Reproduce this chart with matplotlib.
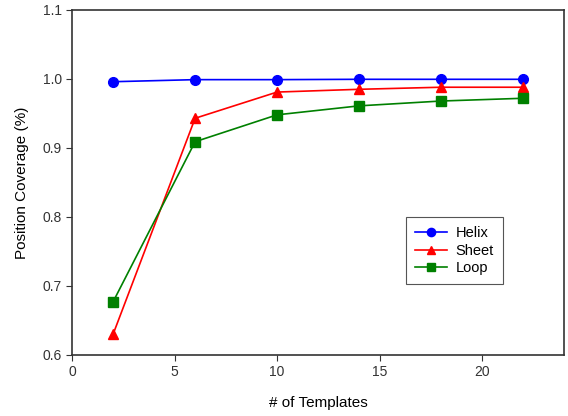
import matplotlib.pyplot as plt

plt.rcParams["font.family"] = ["Liberation Sans", "DejaVu Sans"]

templates = [2, 6, 10, 14, 18, 22]
helix = [0.996, 0.999, 0.999, 0.9995, 0.9995, 0.9995]
sheet = [0.630, 0.943, 0.981, 0.985, 0.988, 0.988]
loop = [0.677, 0.909, 0.948, 0.961, 0.968, 0.972]

fig = plt.figure(figsize=(5.68, 4.16), dpi=100)
ax = fig.add_axes([0.127, 0.147, 0.866, 0.829])

ax.plot(templates, helix, "o-", color="blue", markersize=7, linewidth=1.2, label="Helix")
ax.plot(templates, sheet, "^-", color="red", markersize=7, linewidth=1.2, label="Sheet")
ax.plot(templates, loop, "s-", color="green", markersize=6.5, linewidth=1.2, label="Loop")

ax.set_xlim(0, 24)
ax.set_ylim(0.6, 1.1)
ax.set_xticks([0, 5, 10, 15, 20])
ax.set_yticks([0.6, 0.7, 0.8, 0.9, 1.0, 1.1])
ax.tick_params(direction="out", labelsize=10, colors="#333333", length=4)
for s in ax.spines.values():
    s.set_color("#333333")
    s.set_linewidth(1.2)

ax.set_xlabel("# of Templates", fontsize=11, labelpad=12)
ax.set_ylabel("Position Coverage (%)", fontsize=11, labelpad=10)

leg = ax.legend(loc="lower left", bbox_to_anchor=(0.679, 0.205), fontsize=10.5,
                fancybox=False, edgecolor="#555555", framealpha=1,
                handlelength=2.2, handletextpad=0.6, borderpad=0.6,
                labelspacing=0.25, borderaxespad=0, markerscale=0.85)
leg.get_frame().set_linewidth(0.8)

plt.savefig("out.png", dpi=100)
